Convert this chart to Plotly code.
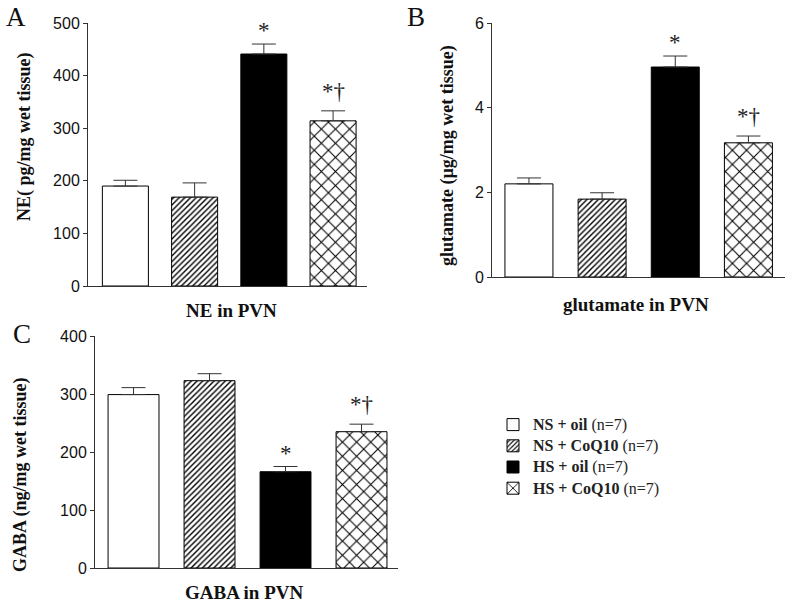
import plotly.graph_objects as go

W, H = 787, 603

groups = ["NS + oil", "NS + CoQ10", "HS + oil", "HS + CoQ10"]
legend_names = ["<b>NS + oil</b> (n=7)", "<b>NS + CoQ10</b> (n=7)",
                "<b>HS + oil</b> (n=7)", "<b>HS + CoQ10</b> (n=7)"]

ne_mean = [190, 169, 441, 314]
ne_err = [11, 27, 19, 19]
glu_mean = [2.20, 1.84, 4.96, 3.17]
glu_err = [0.14, 0.15, 0.26, 0.16]
gaba_mean = [299, 323, 166, 235]
gaba_err = [12, 12, 9, 13]
sig = ["", "", "*", "*†"]
sig_c = ["", "", "*", "*†"]

y_ticks_a = [0, 100, 200, 300, 400, 500]
y_ticks_b = [0, 2, 4, 6]
y_ticks_c = [0, 100, 200, 300, 400]

SERIF = "Liberation Serif, Times New Roman, serif"
SANS = "Liberation Sans, Arial, sans-serif"
AX = "#333333"


def px_x(p):
    return p / W


def px_y(p):
    return 1 - p / H


styles = [
    dict(color="white", pattern=None),
    dict(color="white", pattern=dict(shape="/", size=4, solidity=0.35,
                                     fgcolor="black", bgcolor="white", fillmode="replace")),
    dict(color="black", pattern=None),
    dict(color="white", pattern=dict(shape="x", size=10, solidity=0.2,
                                     fgcolor="black", bgcolor="white", fillmode="replace")),
]

panels = [
    dict(mean=ne_mean, err=ne_err, xa="x", ya="y", sig=sig,
         xdom=[px_x(88), px_x(367)], ydom=[px_y(286), px_y(23)],
         xr=[-0.54, 3.49], yr=[0, 500], ticks=y_ticks_a, width=0.665),
    dict(mean=glu_mean, err=glu_err, xa="x2", ya="y2", sig=sig,
         xdom=[px_x(492), px_x(785)], ydom=[px_y(277), px_y(23)],
         xr=[-0.505, 3.5], yr=[0, 6], ticks=y_ticks_b, width=0.656),
    dict(mean=gaba_mean, err=gaba_err, xa="x3", ya="y3", sig=sig_c,
         xdom=[px_x(95), px_x(398)], ydom=[px_y(568), px_y(336)],
         xr=[-0.507, 3.48], yr=[0, 400], ticks=y_ticks_c, width=0.67),
]

fig = go.Figure()
annotations = []

for pi, p in enumerate(panels):
    for i, g in enumerate(groups):
        st = styles[i]
        marker = dict(color=st["color"], line=dict(color="black", width=1))
        if st["pattern"]:
            marker["pattern"] = st["pattern"]
        fig.add_trace(go.Bar(
            x=[g], y=[p["mean"][i]], width=[p["width"]],
            name=f'<span style="font-size:16px">{legend_names[i]}</span>',
            legendgroup=g, showlegend=(pi == 0),
            marker=marker,
            error_y=dict(type="data", array=[p["err"][i]], arrayminus=[0],
                         symmetric=False, color=AX, thickness=1, width=12),
            xaxis=p["xa"], yaxis=p["ya"], hoverinfo="skip",
        ))
        s = p["sig"][i]
        if s:
            annotations.append(dict(
                x=g, y=p["mean"][i] + p["err"][i], xref=p["xa"], yref=p["ya"],
                text=s, showarrow=False, yanchor="bottom",
                yshift=(-1 if s == "*" else 5),
                font=dict(family=SERIF, size=23, color="#222"),
            ))

layout = dict(
    width=W, height=H, margin=dict(l=0, r=0, t=0, b=0, autoexpand=False),
    paper_bgcolor="white", plot_bgcolor="white",
    barmode="overlay", showlegend=True,
    legend=dict(x=px_x(493), y=px_y(409), xanchor="left", yanchor="top",
                font=dict(family=SERIF, size=14, color="#222"),
                bgcolor="rgba(0,0,0,0)", tracegroupgap=0),
)
for pi, p in enumerate(panels):
    sfx = "" if pi == 0 else str(pi + 1)
    layout["xaxis" + sfx] = dict(
        domain=p["xdom"], range=p["xr"], type="category",
        categoryorder="array", categoryarray=groups, automargin=False,
        showticklabels=False, ticks="", showline=True, linecolor=AX,
        linewidth=1, showgrid=False, zeroline=False, fixedrange=True,
        anchor="y" + sfx,
    )
    layout["yaxis" + sfx] = dict(
        domain=p["ydom"], range=p["yr"], tickvals=p["ticks"], automargin=False,
        ticks="outside", ticklen=4, tickcolor=AX, tickwidth=1,
        showline=True, linecolor=AX, linewidth=1, showgrid=False,
        zeroline=False, tickfont=dict(family=SANS, size=16, color="#111"),
        anchor="x" + sfx,
    )

# axis titles and panel letters
texts = [
    ("NE( pg/mg wet tissue)", 25, 137, -90, 18, True),
    ("glutamate (µg/mg wet tissue)", 447, 155, -90, 18, True),
    ("GABA (ng/mg wet tissue)", 20, 475, -90, 18, True),
    ("NE in PVN", 231, 310, 0, 19, True),
    ("glutamate in PVN", 636, 304, 0, 19, True),
    ("GABA in PVN", 245, 592, 0, 19, True),
    ("A", 16, 17, 0, 27, False),
    ("B", 416, 17, 0, 27, False),
    ("C", 22, 334, 0, 27, False),
]
for t, x, y, ang, sz, bold in texts:
    annotations.append(dict(
        text=f"<b>{t}</b>" if bold else t, x=px_x(x), y=px_y(y),
        xref="paper", yref="paper", xanchor="center", yanchor="middle",
        textangle=ang, showarrow=False,
        font=dict(family=SERIF, size=sz, color="#111"),
    ))

layout["annotations"] = annotations
fig.update_layout(**layout)
fig.write_html(
    "out.html",
    config={"displayModeBar": False},
    post_script="document.body.style.margin='0';document.body.style.overflow='hidden';",
)
